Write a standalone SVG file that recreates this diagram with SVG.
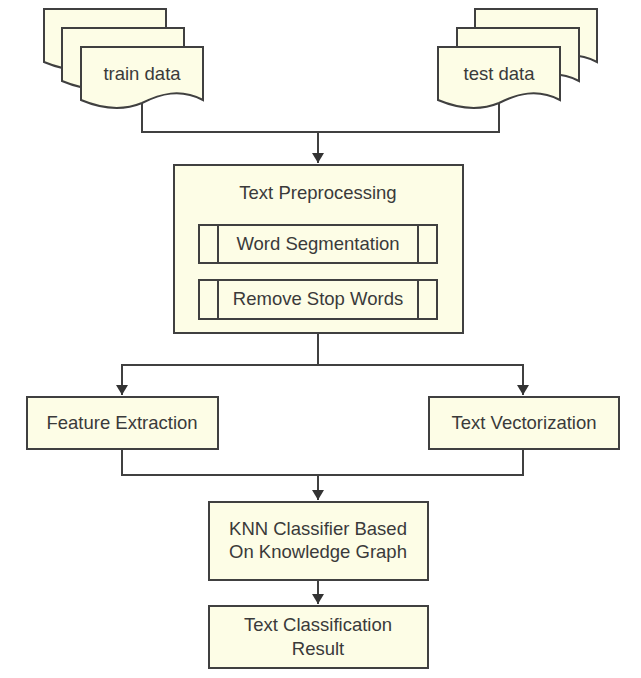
<svg xmlns="http://www.w3.org/2000/svg" width="641" height="678" viewBox="0 0 641 678">
<defs>
<style>
.s{fill:#fdfde6;stroke:#404040;stroke-width:2}
.l{fill:none;stroke:#404040;stroke-width:2}
.t{font-family:"Liberation Sans",Arial,sans-serif;font-size:18.5px;fill:#3a3a3a;text-anchor:middle}
</style>
<marker id="a" viewBox="0 0 10 12" refX="10" refY="6" markerWidth="10" markerHeight="12" markerUnits="userSpaceOnUse" orient="auto">
<path d="M0,0 L10,6 L0,12 Z" fill="#333"/>
</marker>
<path id="doc" d="M0,0 H122 V53 C99,41 79,47 61,56 C39,65 19,61 0,53 Z"/>
</defs>
<rect width="641" height="678" fill="#fff"/>
<g id="connectors">
<path class="l" d="M142,100 V132 H318 V163" marker-end="url(#a)"/>
<path class="l" d="M499,100 V132 H318"/>
<path class="l" d="M318,333 V365 H122 V395" marker-end="url(#a)"/>
<path class="l" d="M318,365 H523 V395" marker-end="url(#a)"/>
<path class="l" d="M122,449 V475 H318 V500" marker-end="url(#a)"/>
<path class="l" d="M523,449 V475 H318"/>
<path class="l" d="M318,580 V604" marker-end="url(#a)"/>
</g>
<g id="train-data">
<use href="#doc" class="s" x="44" y="9"/>
<use href="#doc" class="s" x="62" y="28"/>
<use href="#doc" class="s" x="81" y="47"/>
<text class="t" x="142" y="80">train data</text>
</g>
<g id="test-data">
<use href="#doc" class="s" x="475" y="9"/>
<use href="#doc" class="s" x="457" y="28"/>
<use href="#doc" class="s" x="438" y="47"/>
<text class="t" x="499" y="80">test data</text>
</g>
<g id="text-preprocessing">
<rect class="s" x="174" y="165" width="289" height="168"/>
<text class="t" x="318" y="199">Text Preprocessing</text>
</g>
<g id="word-segmentation">
<rect class="s" x="199" y="225" width="238" height="38"/>
<path class="l" d="M218,225 V263 M418,225 V263"/>
<text class="t" x="318" y="250">Word Segmentation</text>
</g>
<g id="remove-stop-words">
<rect class="s" x="199" y="280" width="238" height="39"/>
<path class="l" d="M218,280 V319 M418,280 V319"/>
<text class="t" x="318" y="305">Remove Stop Words</text>
</g>
<g id="feature-extraction">
<rect class="s" x="27" y="397" width="191" height="52"/>
<text class="t" x="122" y="429">Feature Extraction</text>
</g>
<g id="text-vectorization">
<rect class="s" x="429" y="397" width="190" height="52"/>
<text class="t" x="524" y="429">Text Vectorization</text>
</g>
<g id="knn-classifier">
<rect class="s" x="209" y="502" width="219" height="78"/>
<text class="t" x="318" y="535">KNN Classifier Based</text>
<text class="t" x="318" y="558">On Knowledge Graph</text>
</g>
<g id="classification-result">
<rect class="s" x="209" y="606" width="219" height="62"/>
<text class="t" x="318" y="631">Text Classification</text>
<text class="t" x="318" y="655">Result</text>
</g>
</svg>
